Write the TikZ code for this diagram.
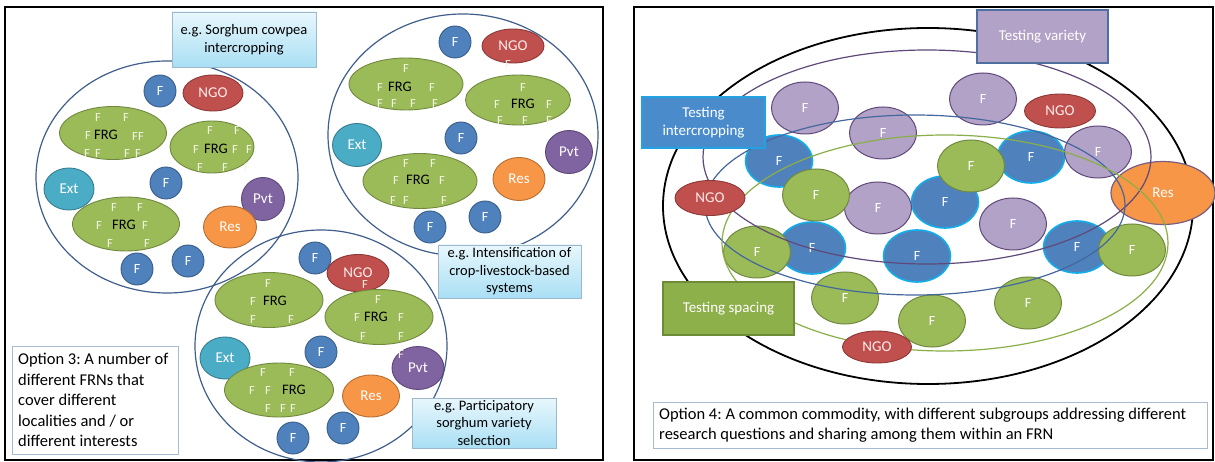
\documentclass[tikz,border=0pt]{standalone}
\usepackage{fontspec}
\setmainfont{Carlito}
\usetikzlibrary{shapes.geometric}
\frenchspacing
\definecolor{lff}{HTML}{4F81BD}\definecolor{lfb}{HTML}{385D8A}
\definecolor{ngof}{HTML}{C0504D}\definecolor{ngob}{HTML}{8C3836}
\definecolor{frgf}{HTML}{9BBB59}\definecolor{frgb}{HTML}{71893F}
\definecolor{extf}{HTML}{4BACC6}\definecolor{extb}{HTML}{357D91}
\definecolor{pvtf}{HTML}{8064A2}\definecolor{pvtb}{HTML}{5C4776}
\definecolor{resf}{HTML}{F79646}\definecolor{resb}{HTML}{B66D31}
\definecolor{ftc}{HTML}{F4F4E4}
\definecolor{netc}{HTML}{3F5E8C}
\definecolor{egt}{HTML}{E8F7FD}\definecolor{egbot}{HTML}{A9DFF4}\definecolor{egb}{HTML}{9DB8CC}
\definecolor{optb}{HTML}{A7BCD3}
\definecolor{rpf}{HTML}{B3A2C7}\definecolor{rpb}{HTML}{5F497A}
\definecolor{rbf}{HTML}{4F81BD}\definecolor{rbb}{HTML}{12AEEA}
\definecolor{grpP}{HTML}{5F497A}\definecolor{grpB}{HTML}{44679E}\definecolor{grpG}{HTML}{8AAF47}
\definecolor{tvf}{HTML}{B3A2C7}\definecolor{tvb}{HTML}{4F6FA0}
\definecolor{tif}{HTML}{4A8CCB}\definecolor{tib}{HTML}{21A3E3}
\definecolor{tsf}{HTML}{8DB04A}\definecolor{tsb}{HTML}{6E8B3A}
\definecolor{rresb}{HTML}{7A5E80}
\begin{document}
\begin{tikzpicture}[x=1pt,y=-1pt,
  frame/.style={draw=black,line width=1.8pt},
  lfc/.style={ellipse,draw=lfb,fill=lff,line width=0.9pt,minimum width=32pt,minimum height=32pt,inner sep=0pt,text=white,font=\fontsize{14}{16}\selectfont},
  ngo/.style={ellipse,draw=ngob,fill=ngof,line width=0.9pt,inner sep=0pt,text=white!92!red,font=\fontsize{15}{17}\selectfont},
  frg/.style={ellipse,draw=frgb,fill=frgf,line width=0.9pt,inner sep=0pt},
  ext/.style={ellipse,draw=extb,fill=extf,line width=0.9pt,inner sep=0pt,text=white,font=\fontsize{15}{17}\selectfont},
  pvt/.style={ellipse,draw=pvtb,fill=pvtf,line width=0.9pt,inner sep=0pt,text=white,font=\fontsize{15}{17}\selectfont},
  res/.style={ellipse,draw=resb,fill=resf,line width=0.9pt,inner sep=0pt,text=white,font=\fontsize{15}{17}\selectfont},
  ftx/.style={text=ftc,font=\fontsize{12.5}{14}\selectfont,inner sep=0pt},
  frgtx/.style={text=black,font=\fontsize{14.5}{16}\selectfont,inner sep=0pt},
  net/.style={ellipse,draw=netc,line width=1.2pt,inner sep=0pt},
  egbox/.style={rectangle,draw=egb,line width=0.8pt,top color=egt,bottom color=egbot,inner sep=0pt},
  egtx/.style={align=center,font=\fontsize{14.5}{17.5}\selectfont,inner sep=0pt},
  optbox/.style={rectangle,draw=optb,fill=white,line width=0.9pt,inner sep=0pt},
  opttx/.style={align=left,font=\fontsize{16.5}{20.5}\selectfont,inner sep=0pt,anchor=west},
  rF/.style={ellipse,minimum width=67pt,minimum height=52pt,inner sep=0pt,text=white,font=\fontsize{14}{16}\selectfont,line width=1pt},
  rP/.style={rF,fill=rpf,draw=rpb},
  rB/.style={rF,fill=rbf,draw=rbb,line width=1.6pt},
  rG/.style={rF,fill=frgf,draw=frgb},
  grp/.style={ellipse,inner sep=0pt,line width=1.2pt},
  tbox/.style={rectangle,inner sep=0pt,text=white,align=center,font=\fontsize{15}{18}\selectfont,line width=1.4pt}
]
\useasboundingbox (0,0) rectangle (1215,462);
\fill[white] (0,0) rectangle (1215,462);

%================ LEFT PANEL =================
\draw[frame] (5,7) rectangle (603,460);
\node[net,minimum width=262pt,minimum height=232pt] (net1) at (167,177) {};
\node[net,minimum width=270pt,minimum height=242pt] (net2) at (463,135) {};
\node[net,minimum width=252pt,minimum height=232pt] (net3) at (321,346) {};

% network 1
\node[lfc] (c1f1) at (160,91) {F};
\node[ngo,minimum width=60pt,minimum height=36pt] (c1ngo) at (213,93) {NGO};
\node[frg,minimum width=107pt,minimum height=53pt] (c1g1) at (113,133) {};
\node[frg,minimum width=84pt,minimum height=52pt] (c1g2) at (212,147) {};
\node[ext,minimum width=50pt,minimum height=42pt] (c1ext) at (69,189) {Ext};
\node[lfc] (c1f2) at (166,183) {F};
\node[pvt,minimum width=43pt,minimum height=43pt] (c1pvt) at (263,199) {Pvt};
\node[res,minimum width=53pt,minimum height=42pt] (c1res) at (230,227) {Res};
\node[frg,minimum width=107pt,minimum height=54pt] (c1g3) at (126,224) {};
\node[lfc] (c1f3) at (137,269) {F};
\node[lfc] (c1f4) at (188,261) {F};
\node[frgtx] (c1g1t) at (106,135) {FRG};
\foreach \x/\y [count=\i] in {98/117,126/117,88/135,135/136,141/136,87/153,98/153,127/153,138/153}
  \node[ftx] (c1g1f\i) at (\x,\y) {F};
\node[frgtx] (c1g2t) at (216,149) {FRG};
\foreach \x/\y [count=\i] in {210/130,237/130,196/149,235/149,249/149,200/167,225/167,247/167}
  \node[ftx] (c1g2f\i) at (\x,\y) {F};
\node[frgtx] (c1g3t) at (124,225) {FRG};
\foreach \x/\y [count=\i] in {114/207,140/207,99/225,145/225,110/243,147/243}
  \node[ftx] (c1g3f\i) at (\x,\y) {F};

% network 2
\node[lfc] (c2f1) at (455,42) {F};
\node[ngo,minimum width=62pt,minimum height=34pt] (c2ngo) at (513,46) {NGO};
\node[ftx] (c2ngof) at (508,64) {F};
\node[frg,minimum width=114pt,minimum height=52pt] (c2g1) at (406,84) {};
\node[frg,minimum width=105pt,minimum height=50pt] (c2g2) at (518,100) {};
\node[ext,minimum width=49pt,minimum height=43pt] (c2ext) at (357,145) {Ext};
\node[lfc] (c2f2) at (461,138) {F};
\node[pvt,minimum width=47pt,minimum height=43pt] (c2pvt) at (569,152) {Pvt};
\node[res,minimum width=52pt,minimum height=43pt] (c2res) at (519,179) {Res};
\node[frg,minimum width=114pt,minimum height=55pt] (c2g3) at (420,181) {};
\node[lfc] (c2f3) at (430,227) {F};
\node[lfc] (c2f4) at (485,217) {F};
\node[frgtx] (c2g1t) at (400,87) {FRG};
\foreach \x/\y [count=\i] in {406/68,380/87,432/87,380/103,394/103,413/103,435/103}
  \node[ftx] (c2g1f\i) at (\x,\y) {F};
\node[frgtx] (c2g2t) at (523,104) {FRG};
\foreach \x/\y [count=\i] in {523/87,497/104,549/104,500/120,525/120,549/120}
  \node[ftx] (c2g2f\i) at (\x,\y) {F};
\node[frgtx] (c2g3t) at (418,180) {FRG};
\foreach \x/\y [count=\i] in {406/163,433/163,396/180,442/180,393/200,406/200,444/200}
  \node[ftx] (c2g3f\i) at (\x,\y) {F};

% network 3
\node[lfc] (c3f1) at (315,258) {F};
\node[ngo,minimum width=62pt,minimum height=37pt] (c3ngo) at (358,273) {NGO};
\node[frg,minimum width=108pt,minimum height=55pt] (c3g1) at (269,300) {};
\node[frg,minimum width=108pt,minimum height=55pt] (c3g2) at (379,317) {};
\node[ftx] (c3ngof) at (365,284) {F};
\node[ext,minimum width=50pt,minimum height=42pt] (c3ext) at (225,358) {Ext};
\node[lfc] (c3f2) at (321,352) {F};
\node[pvt,minimum width=52pt,minimum height=43pt] (c3pvt) at (418,368) {Pvt};
\node[ftx] (c3pvtf) at (401,354) {F};
\node[frg,minimum width=109pt,minimum height=54pt] (c3g3) at (279,390) {};
\node[res,minimum width=57pt,minimum height=42pt] (c3res) at (371,396) {Res};
\node[lfc] (c3f3) at (343,428) {F};
\node[lfc] (c3f4) at (293,438) {F};
\node[frgtx] (c3g1t) at (275,301) {FRG};
\foreach \x/\y [count=\i] in {268/283,253/301,253/319,291/319}
  \node[ftx] (c3g1f\i) at (\x,\y) {F};
\node[frgtx] (c3g2t) at (376,317) {FRG};
\foreach \x/\y [count=\i] in {378/299,357/317,401/317,363/336,401/336}
  \node[ftx] (c3g2f\i) at (\x,\y) {F};
\node[frgtx] (c3g3t) at (294,390) {FRG};
\foreach \x/\y [count=\i] in {263/372,292/372,252/390,268/390,268/408,283/408,293/408}
  \node[ftx] (c3g3f\i) at (\x,\y) {F};

% example boxes
\node[egbox,minimum width=144pt,minimum height=55pt] (eg1) at (244,39.5) {};
\node[egtx] (eg1t) at (eg1) {e.g. Sorghum cowpea\\intercropping};
\node[egbox,minimum width=143pt,minimum height=53pt] (eg2) at (509.5,271.5) {};
\node[egtx] (eg2t) at (eg2) {e.g. Intensification of\\crop-livestock-based\\systems};
\node[egbox,minimum width=144pt,minimum height=50pt] (eg3) at (484,423) {};
\node[egtx] (eg3t) at (eg3) {e.g. Participatory\\sorghum variety\\selection};

\node[optbox,minimum width=166pt,minimum height=108pt] (opt3) at (95,400) {};
\node[opttx] (opt3t) at (18,400) {Option 3: A number of\\different FRNs that\\cover different\\localities and / or\\different interests};

%================ RIGHT PANEL =================
\draw[frame] (634,7) rectangle (1213,460);
\node[grp,draw=black,line width=1.8pt,minimum width=530pt,minimum height=356pt] (allfrn) at (928,206) {};

\node[rB] (rb1) at (779,161) {F};
\node[rB] (rb2) at (1031,157) {F};
\node[rB] (rb3) at (945,202) {F};
\node[rB] (rb4) at (812,248) {F};
\node[rB] (rb5) at (917,256) {F};
\node[rB] (rb6) at (1077,247) {F};

\node[rP] (rp1) at (805,108) {F};
\node[rP] (rp2) at (883,133) {F};
\node[rP] (rp3) at (983,99) {F};
\node[rP] (rp4) at (1098,152) {F};
\node[rP] (rp5) at (878,208) {F};
\node[rP] (rp6) at (1013,224) {F};

\node[rG] (rg1) at (816,195) {F};
\node[rG] (rg2) at (971,166) {F};
\node[rG] (rg3) at (757,252) {F};
\node[rG] (rg4) at (845,298) {F};
\node[rG] (rg5) at (932,321) {F};
\node[rG] (rg6) at (1028,303) {F};
\node[rG] (rg7) at (1132,250) {F};

\node[res,draw=rresb,line width=1.2pt,minimum width=104pt,minimum height=63pt] (rres) at (1163,193) {Res};

\node[grp,draw=grpP,minimum width=448pt,minimum height=214pt] (gvar) at (927,157) {};
\node[grp,draw=grpB,minimum width=420pt,minimum height=180pt] (gint) at (915,205) {};
\node[grp,draw=grpG,minimum width=446pt,minimum height=216pt] (gspa) at (945,243) {};

\node[ngo,minimum width=70pt,minimum height=35pt] (rn1) at (710,198) {NGO};
\node[ngo,minimum width=71pt,minimum height=34pt] (rn2) at (1060,111) {NGO};
\node[ngo,minimum width=69pt,minimum height=32pt] (rn3) at (877,347) {NGO};

\node[tbox,fill=tvf,draw=tvb,minimum width=131pt,minimum height=53pt] (tvar) at (1042.5,36.5) {Testing variety};
\node[tbox,fill=tif,draw=tib,minimum width=123pt,minimum height=51pt] (tint) at (703.5,122.5) {Testing\\intercropping};
\node[tbox,fill=tsf,draw=tsb,minimum width=131pt,minimum height=53pt] (tspa) at (728.5,308.5) {Testing spacing};

\node[optbox,minimum width=554pt,minimum height=46pt] (opt4) at (930,425) {};
\node[opttx,font=\fontsize{16.5}{20}\selectfont] (opt4t) at (659,425) {Option 4: A common commodity, with different subgroups addressing different\\research questions and sharing among them within an FRN};
\end{tikzpicture}
\end{document}
